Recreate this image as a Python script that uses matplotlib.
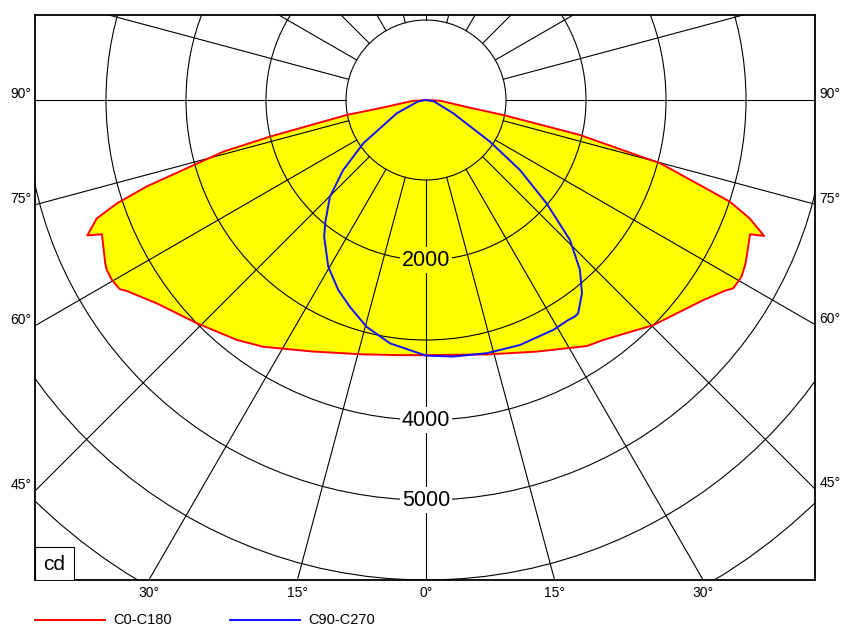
import numpy as np
import matplotlib
matplotlib.use('Agg')
import matplotlib.pyplot as plt
from matplotlib.patches import Circle, Rectangle
from matplotlib.lines import Line2D

plt.rcParams['font.family'] = ['Liberation Sans', 'DejaVu Sans']

# C0-C180 (rojo), mitad izquierda de 90 a 0 grados y derecha de 0 a 90
red_left_gamma = [90, 86, 80, 79.3, 76.8, 75.7, 74.2, 72.8, 71.5, 70.2, 68.2, 67.5, 63.0, 62.0,
                  60.2, 58.3, 57.5, 53.0, 45.8, 38.3, 33.4, 24.1, 13.9, 6.6, 0]
red_left_cd = [0, 170, 560, 1010, 2000, 2615, 3065, 3655, 4075, 4375, 4560, 4385, 4500, 4520,
               4525, 4500, 4440, 4220, 4000, 3820, 3695, 3445, 3275, 3210, 3190]
red_right_gamma = [0, 6.5, 13.4, 23.7, 33.2, 36.5, 45.3, 54.2, 57.5, 58.5, 60.8, 62.7, 63.2,
                   67.5, 68.1, 69.9, 71.5, 72.6, 74.9, 75.6, 77.2, 79.0, 80, 87, 90]
red_right_cd = [3190, 3205, 3270, 3435, 3675, 3730, 4000, 4275, 4435, 4505, 4520, 4490, 4480,
                4385, 4555, 4310, 4005, 3630, 3030, 2590, 1975, 985, 560, 175, 0]

# C90-C270 (azul)
blue_left_gamma = [90, 80, 65.6, 55.4, 49.8, 44.8, 39.3, 36.7, 30.4, 24.8, 20.2, 14.7, 8.4, 0]
blue_left_cd = [0, 100, 400, 950, 1355, 1705, 1990, 2130, 2415, 2615, 2755, 2930, 3075, 3195]
blue_right_gamma = [0, 6.1, 13.5, 21.0, 29.0, 32.9, 34.5, 35.5, 38.9, 42.2, 45.8, 49.4, 53.3,
                    56.9, 64.0, 80, 90]
blue_right_cd = [3195, 3225, 3255, 3280, 3285, 3275, 3285, 3275, 3105, 2865, 2510, 1985, 1465,
                 955, 380, 100, 0]

circle_values = [1000, 2000, 3000, 4000, 5000, 6000, 7000]
value_labels = [2000, 4000, 5000]
side_angles = [45, 60, 75, 90]
bottom_angles = [30, 15, 0, 15, 30]
bottom_signs = [-1, -1, 0, 1, 1]


def to_xy(gamma, cd, side):
    g = np.radians(np.array(gamma))
    r = np.array(cd, dtype=float)
    return side * r * np.sin(g), -r * np.cos(g)


fig = plt.figure(figsize=(8.49, 6.34), dpi=100)
ax = fig.add_axes([35 / 849, 54 / 634, 780 / 849, 565 / 634])
xmin, xmax = -4887.5, 4862.5
ymin, ymax = -6000, 1062.5
ax.set_xlim(xmin, xmax)
ax.set_ylim(ymin, ymax)
ax.set_aspect('equal')
ax.set_xticks([])
ax.set_yticks([])
for s in ax.spines.values():
    s.set_linewidth(1.3)

# curva roja rellena
xl, yl = to_xy(red_left_gamma, red_left_cd, -1)
xr, yr = to_xy(red_right_gamma, red_right_cd, 1)
xs = np.concatenate([xl, xr])
ys = np.concatenate([yl, yr])
ax.fill(xs, ys, color='#ffff00', zorder=1, linewidth=0)

# rejilla
for v in circle_values:
    ax.add_patch(Circle((0, 0), v, fill=False, edgecolor='black', linewidth=0.8, zorder=2))
for a in range(0, 360, 15):
    ar = np.radians(a)
    ax.plot([1000 * np.sin(ar), 20000 * np.sin(ar)], [-1000 * np.cos(ar), -20000 * np.cos(ar)],
            color='black', linewidth=0.8, zorder=2)

ax.plot(xs, ys, color='#ff0000', linewidth=1.4, zorder=3)
bxl, byl = to_xy(blue_left_gamma, blue_left_cd, -1)
bxr, byr = to_xy(blue_right_gamma, blue_right_cd, 1)
ax.plot(np.concatenate([bxl, bxr]), np.concatenate([byl, byr]), color='#1010ff', linewidth=1.4, zorder=3)

# etiquetas de valores
for v in value_labels:
    bg = '#ffff00' if v < 3190 else 'white'
    ax.text(0, -v, str(v), ha='center', va='center', fontsize=15.5, zorder=5,
            bbox=dict(facecolor=bg, edgecolor='none', pad=1.5))

# etiquetas de ángulos en los lados
for a in side_angles:
    ar = np.radians(a)
    yl_ = xmin / np.tan(ar) if a != 90 else 0
    yr_ = -xmax / np.tan(ar) if a != 90 else 0
    ax.annotate(f'{a}°', (xmin, yl_), xytext=(-2.5, -1), textcoords='offset points',
                ha='right', va='bottom', fontsize=10, annotation_clip=False)
    ax.annotate(f'{a}°', (xmax, yr_), xytext=(3, -1), textcoords='offset points',
                ha='left', va='bottom', fontsize=10, annotation_clip=False)

for a, sg in zip(bottom_angles, bottom_signs):
    x = sg * (-ymin) * np.tan(np.radians(a))
    ax.annotate(f'{a}°', (x, ymin), xytext=(0, -4), textcoords='offset points',
                ha='center', va='top', fontsize=10, annotation_clip=False)

# caja cd
ax.add_patch(Rectangle((0, 0), 39 / 780, 33 / 565, transform=ax.transAxes,
                       facecolor='white', edgecolor='black', linewidth=0.8, zorder=6))
ax.text(19.5 / 780, 15 / 565, 'cd', transform=ax.transAxes, ha='center', va='center',
        fontsize=15, zorder=7)

# leyenda
ly = (634 - 620) / 634
fig.add_artist(Line2D([35 / 849, 105 / 849], [ly, ly], color='#ff0000', linewidth=1.4))
fig.text(113 / 849, ly, 'C0-C180', ha='left', va='center', fontsize=10.5)
fig.add_artist(Line2D([230 / 849, 300 / 849], [ly, ly], color='#1010ff', linewidth=1.4))
fig.text(308 / 849, ly, 'C90-C270', ha='left', va='center', fontsize=10.5)

fig.savefig('out.png', dpi=100)
